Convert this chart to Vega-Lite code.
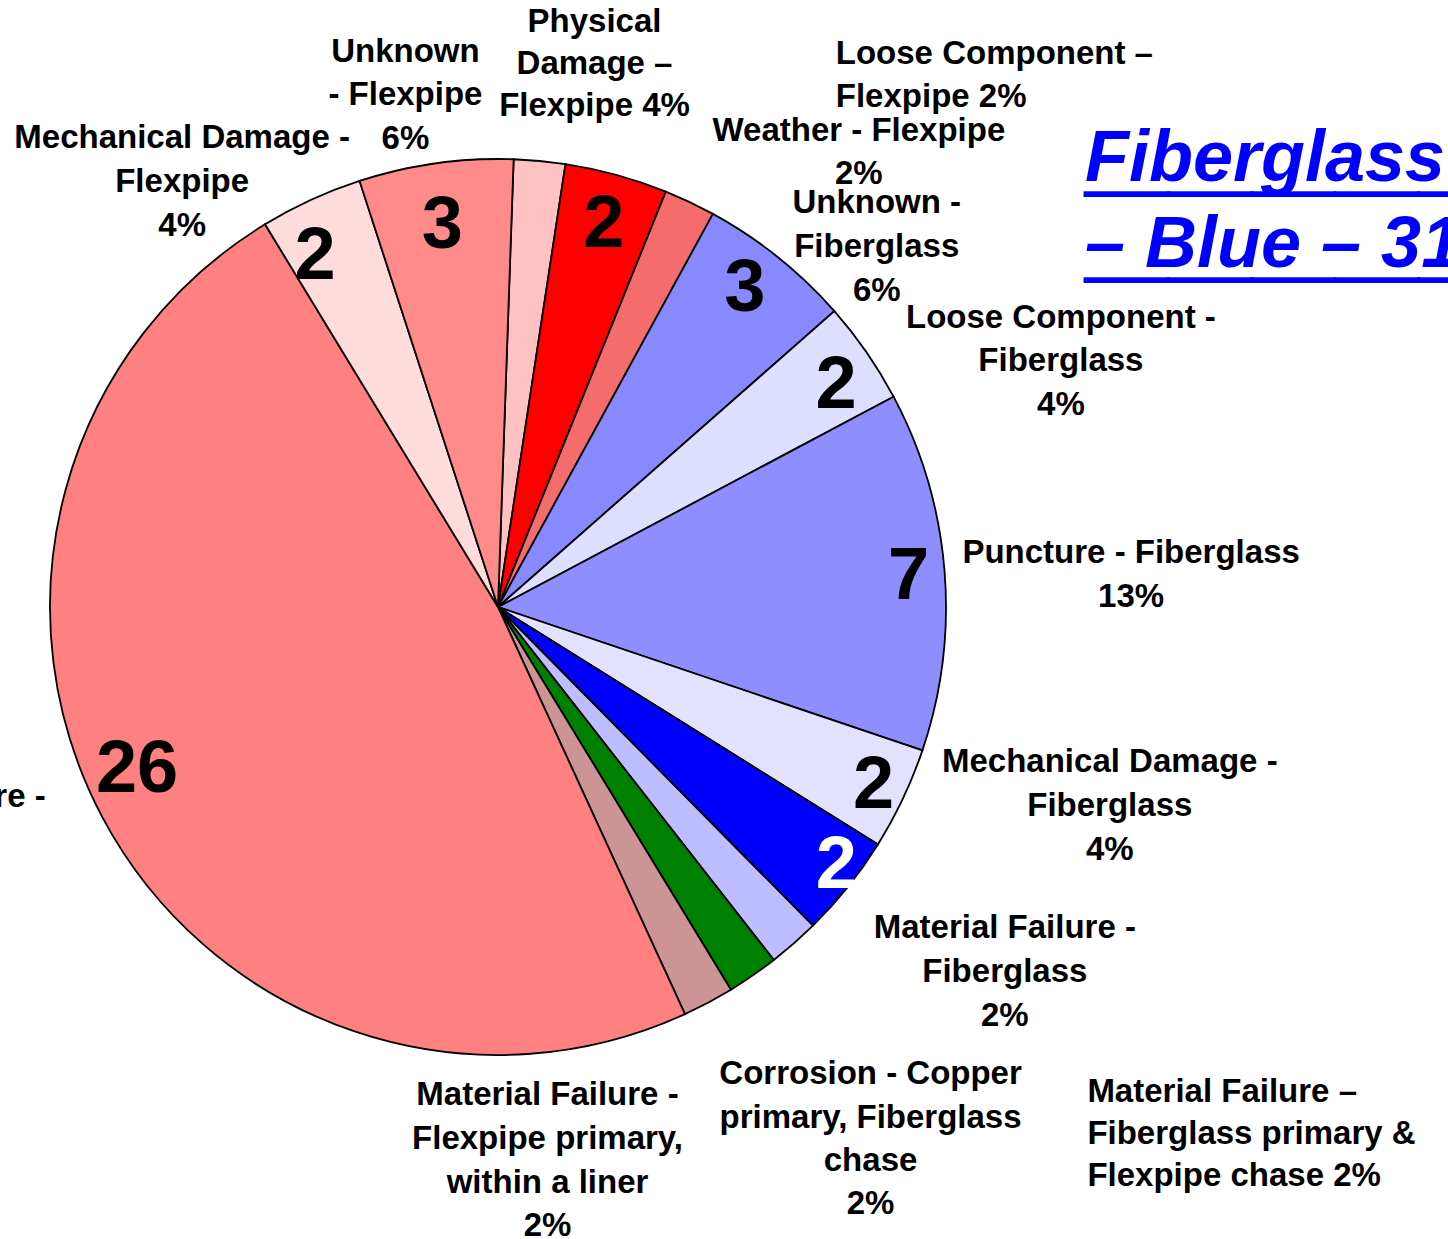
{
  "$schema": "https://vega.github.io/schema/vega-lite/v6.json",
  "width": 996,
  "height": 1214,
  "autosize": {"type": "none"},
  "padding": {"left": 0, "top": 0, "right": 452, "bottom": 25},
  "background": "white",
  "config": {"view": {"stroke": null}, "text": {"font": "Liberation Sans", "fontWeight": "bold", "fill": "#000000"}},
  "title": {
    "text": ["Fiberglass", "– Blue – 31"],
    "subtitle": ["_____", "_____"],
    "anchor": "start",
    "frame": "group",
    "orient": "top",
    "align": "left",
    "offset": 0,
    "dx": 1085,
    "dy": 360,
    "fontSize": 72,
    "font": "Liberation Sans",
    "fontStyle": "italic",
    "fontWeight": "bold",
    "color": "#0000FF",
    "lineHeight": 86,
    "subtitleFont": "Liberation Sans",
    "subtitleFontSize": 150,
    "subtitleFontWeight": "bold",
    "subtitleFontStyle": "normal",
    "subtitleColor": "#0000FF",
    "subtitleLineHeight": 86,
    "subtitlePadding": -222
  },
  "data": {
    "values": [
      {"i": 1, "cat": "Loose Component – Flexpipe", "value": 1, "label": "Loose Component –\nFlexpipe 2%"},
      {"i": 2, "cat": "Physical Damage – Flexpipe", "value": 2, "label": "Physical\nDamage –\nFlexpipe 4%"},
      {"i": 3, "cat": "Weather - Flexpipe", "value": 1, "label": "Weather - Flexpipe\n2%"},
      {"i": 4, "cat": "Unknown - Fiberglass", "value": 3, "label": "Unknown -\nFiberglass\n6%"},
      {"i": 5, "cat": "Loose Component - Fiberglass", "value": 2, "label": "Loose Component -\nFiberglass\n4%"},
      {"i": 6, "cat": "Puncture - Fiberglass", "value": 7, "label": "Puncture - Fiberglass\n13%"},
      {"i": 7, "cat": "Mechanical Damage - Fiberglass", "value": 2, "label": "Mechanical Damage -\nFiberglass\n4%"},
      {"i": 8, "cat": "Material Failure - Fiberglass", "value": 2, "label": "Material Failure -\nFiberglass\n2%"},
      {"i": 9, "cat": "Material Failure – Fiberglass primary & Flexpipe chase", "value": 1, "label": "Material Failure –\nFiberglass primary &\nFlexpipe chase 2%"},
      {"i": 10, "cat": "Corrosion - Copper primary, Fiberglass chase", "value": 1, "label": "Corrosion - Copper\nprimary, Fiberglass\nchase\n2%"},
      {"i": 11, "cat": "Material Failure - Flexpipe primary, within a liner", "value": 1, "label": "Material Failure -\nFlexpipe primary,\nwithin a liner\n2%"},
      {"i": 12, "cat": "Material Failure - Flexpipe", "value": 26, "label": "Material Failure -\nFlexpipe\n48%"},
      {"i": 13, "cat": "Mechanical Damage - Flexpipe", "value": 2, "label": "Mechanical Damage -\nFlexpipe\n4%"},
      {"i": 14, "cat": "Unknown - Flexpipe", "value": 3, "label": "Unknown\n- Flexpipe\n6%"}
    ]
  },
  "transform": [
    {"stack": "value", "groupby": [], "sort": [{"field": "i", "order": "ascending"}], "as": ["v0", "v1"]}
  ],
  "encoding": {
    "theta": {"field": "value", "type": "quantitative", "stack": true, "scale": {"range": [0.0349, 6.3181], "zero": true, "nice": false}},
    "order": {"field": "i", "type": "quantitative"},
    "detail": {"field": "cat", "type": "nominal"}
  },
  "layer": [
    {
      "mark": {"type": "arc", "outerRadius": 448, "stroke": "#000000", "strokeWidth": 1.8},
      "encoding": {
        "color": {
          "field": "cat",
          "type": "nominal",
          "legend": null,
          "scale": {
            "domain": ["Loose Component – Flexpipe", "Physical Damage – Flexpipe", "Weather - Flexpipe", "Unknown - Fiberglass", "Loose Component - Fiberglass", "Puncture - Fiberglass", "Mechanical Damage - Fiberglass", "Material Failure - Fiberglass", "Material Failure – Fiberglass primary & Flexpipe chase", "Corrosion - Copper primary, Fiberglass chase", "Material Failure - Flexpipe primary, within a liner", "Material Failure - Flexpipe", "Mechanical Damage - Flexpipe", "Unknown - Flexpipe"],
            "range": ["#FFC2C2", "#FF0000", "#F46C6C", "#8888FF", "#DEDEFF", "#8E8EFF", "#E2E2FF", "#0000FF", "#BDBDFF", "#008000", "#CC9494", "#FF8080", "#FFDCDC", "#FF8A8A"]
          }
        }
      }
    },
    {"mark": {"type": "text", "radius": 400, "dx": 0, "dy": 4, "fontSize": 74, "align": "center", "baseline": "middle"},
     "encoding": {"text": {"condition": {"test": "datum.i === 2", "field": "value", "type": "quantitative"}, "value": ""}}},
    {"mark": {"type": "text", "radius": 400, "dx": -3, "dy": -6, "fontSize": 74, "align": "center", "baseline": "middle"},
     "encoding": {"text": {"condition": {"test": "datum.i === 4", "field": "value", "type": "quantitative"}, "value": ""}}},
    {"mark": {"type": "text", "radius": 400, "dx": 9, "dy": 7, "fontSize": 74, "align": "center", "baseline": "middle"},
     "encoding": {"text": {"condition": {"test": "datum.i === 5", "field": "value", "type": "quantitative"}, "value": ""}}},
    {"mark": {"type": "text", "radius": 400, "dx": 12, "dy": 3, "fontSize": 74, "align": "center", "baseline": "middle"},
     "encoding": {"text": {"condition": {"test": "datum.i === 6", "field": "value", "type": "quantitative"}, "value": ""}}},
    {"mark": {"type": "text", "radius": 400, "dx": 14, "dy": 8, "fontSize": 74, "align": "center", "baseline": "middle"},
     "encoding": {"text": {"condition": {"test": "datum.i === 7", "field": "value", "type": "quantitative"}, "value": ""}}},
    {"mark": {"type": "text", "radius": 423, "dx": 8, "dy": -5, "fontSize": 74, "align": "center", "baseline": "middle", "fill": "#FFFFFF"},
     "encoding": {"text": {"condition": {"test": "datum.i === 8", "field": "value", "type": "quantitative"}, "value": ""}}},
    {"mark": {"type": "text", "radius": 394, "dx": -13, "dy": -22, "fontSize": 74, "align": "center", "baseline": "middle"},
     "encoding": {"text": {"condition": {"test": "datum.i === 12", "field": "value", "type": "quantitative"}, "value": ""}}},
    {"mark": {"type": "text", "radius": 400, "dx": -16, "dy": 14, "fontSize": 74, "align": "center", "baseline": "middle"},
     "encoding": {"text": {"condition": {"test": "datum.i === 13", "field": "value", "type": "quantitative"}, "value": ""}}},
    {"mark": {"type": "text", "radius": 400, "dx": 0, "dy": 15, "fontSize": 74, "align": "center", "baseline": "middle"},
     "encoding": {"text": {"condition": {"test": "datum.i === 14", "field": "value", "type": "quantitative"}, "value": ""}}},

    {"transform": [{"filter": "datum.i === 1"}],
     "mark": {"type": "text", "radius": 649, "dx": 240, "dy": 89, "align": "left", "baseline": "middle", "lineBreak": "\n", "lineHeight": 43, "fontSize": 33},
     "encoding": {"theta": {"field": "v1", "type": "quantitative", "stack": null, "scale": {"range": [0.0349, 6.3181], "zero": true, "nice": false}}, "text": {"field": "label", "type": "nominal"}}},
    {"transform": [{"filter": "datum.i === 2"}],
     "mark": {"type": "text", "radius": 594, "dx": 7, "dy": 2, "align": "center", "baseline": "middle", "lineBreak": "\n", "lineHeight": 42, "fontSize": 33},
     "encoding": {"theta": {"field": "v0", "type": "quantitative", "stack": null, "scale": {"range": [0.0349, 6.3181], "zero": true, "nice": false}}, "text": {"field": "label", "type": "nominal"}}},
    {"transform": [{"filter": "datum.i === 3"}],
     "mark": {"type": "text", "radius": 598, "dx": 74, "dy": 49, "align": "center", "baseline": "middle", "lineBreak": "\n", "lineHeight": 43, "fontSize": 33},
     "encoding": {"theta": {"field": "v1", "type": "quantitative", "stack": null, "scale": {"range": [0.0349, 6.3181], "zero": true, "nice": false}}, "text": {"field": "label", "type": "nominal"}}},
    {"transform": [{"filter": "datum.i === 4"}],
     "mark": {"type": "text", "radius": 555, "dx": -38, "dy": -37, "align": "center", "baseline": "middle", "lineBreak": "\n", "lineHeight": 44, "fontSize": 33},
     "encoding": {"theta": {"field": "v1", "type": "quantitative", "stack": null, "scale": {"range": [0.0349, 6.3181], "zero": true, "nice": false}}, "text": {"field": "label", "type": "nominal"}}},
    {"transform": [{"filter": "datum.i === 5"}],
     "mark": {"type": "text", "radius": 633, "dx": 4, "dy": 8, "align": "center", "baseline": "middle", "lineBreak": "\n", "lineHeight": 43.5, "fontSize": 33},
     "encoding": {"theta": {"field": "v1", "type": "quantitative", "stack": null, "scale": {"range": [0.0349, 6.3181], "zero": true, "nice": false}}, "text": {"field": "label", "type": "nominal"}}},
    {"mark": {"type": "text", "radius": 560, "dx": 75, "dy": -8, "align": "center", "baseline": "middle", "lineBreak": "\n", "lineHeight": 44, "fontSize": 33},
     "encoding": {"text": {"condition": {"test": "datum.i === 6", "field": "label", "type": "nominal"}, "value": ""}}},
    {"transform": [{"filter": "datum.i === 7"}],
     "mark": {"type": "text", "radius": 631, "dx": 14, "dy": -47, "align": "center", "baseline": "middle", "lineBreak": "\n", "lineHeight": 44, "fontSize": 33},
     "encoding": {"theta": {"field": "v0", "type": "quantitative", "stack": null, "scale": {"range": [0.0349, 6.3181], "zero": true, "nice": false}}, "text": {"field": "label", "type": "nominal"}}},
    {"transform": [{"filter": "datum.i === 8"}],
     "mark": {"type": "text", "radius": 600, "dx": -2, "dy": 3, "align": "center", "baseline": "middle", "lineBreak": "\n", "lineHeight": 44, "fontSize": 33},
     "encoding": {"theta": {"field": "v0", "type": "quantitative", "stack": null, "scale": {"range": [0.0349, 6.3181], "zero": true, "nice": false}}, "text": {"field": "label", "type": "nominal"}}},
    {"transform": [{"filter": "datum.i === 9"}],
     "mark": {"type": "text", "radius": 763, "dx": 53, "dy": -58, "align": "left", "baseline": "middle", "lineBreak": "\n", "lineHeight": 42, "fontSize": 33},
     "encoding": {"theta": {"field": "v0", "type": "quantitative", "stack": null, "scale": {"range": [0.0349, 6.3181], "zero": true, "nice": false}}, "text": {"field": "label", "type": "nominal"}}},
    {"transform": [{"filter": "datum.i === 10"}],
     "mark": {"type": "text", "radius": 597, "dx": 5, "dy": -3, "align": "center", "baseline": "middle", "lineBreak": "\n", "lineHeight": 43.3, "fontSize": 33},
     "encoding": {"theta": {"field": "v0", "type": "quantitative", "stack": null, "scale": {"range": [0.0349, 6.3181], "zero": true, "nice": false}}, "text": {"field": "label", "type": "nominal"}}},
    {"transform": [{"filter": "datum.i === 11"}],
     "mark": {"type": "text", "radius": 490, "dx": -155, "dy": 43, "align": "center", "baseline": "middle", "lineBreak": "\n", "lineHeight": 43.7, "fontSize": 33},
     "encoding": {"theta": {"field": "v1", "type": "quantitative", "stack": null, "scale": {"range": [0.0349, 6.3181], "zero": true, "nice": false}}, "text": {"field": "label", "type": "nominal"}}},
    {"mark": {"type": "text", "radius": 500, "dx": -142, "dy": -45, "align": "center", "baseline": "middle", "lineBreak": "\n", "lineHeight": 44, "fontSize": 33},
     "encoding": {"text": {"condition": {"test": "datum.i === 12", "field": "label", "type": "nominal"}, "value": ""}}},
    {"transform": [{"filter": "datum.i === 13"}],
     "mark": {"type": "text", "radius": 567, "dx": -21, "dy": 15, "align": "center", "baseline": "middle", "lineBreak": "\n", "lineHeight": 44, "fontSize": 33},
     "encoding": {"theta": {"field": "v0", "type": "quantitative", "stack": null, "scale": {"range": [0.0349, 6.3181], "zero": true, "nice": false}}, "text": {"field": "label", "type": "nominal"}}},
    {"transform": [{"filter": "datum.i === 14"}],
     "mark": {"type": "text", "radius": 565, "dx": 82, "dy": -18, "align": "center", "baseline": "middle", "lineBreak": "\n", "lineHeight": 43.5, "fontSize": 33},
     "encoding": {"theta": {"field": "v0", "type": "quantitative", "stack": null, "scale": {"range": [0.0349, 6.3181], "zero": true, "nice": false}}, "text": {"field": "label", "type": "nominal"}}}
  ]
}
